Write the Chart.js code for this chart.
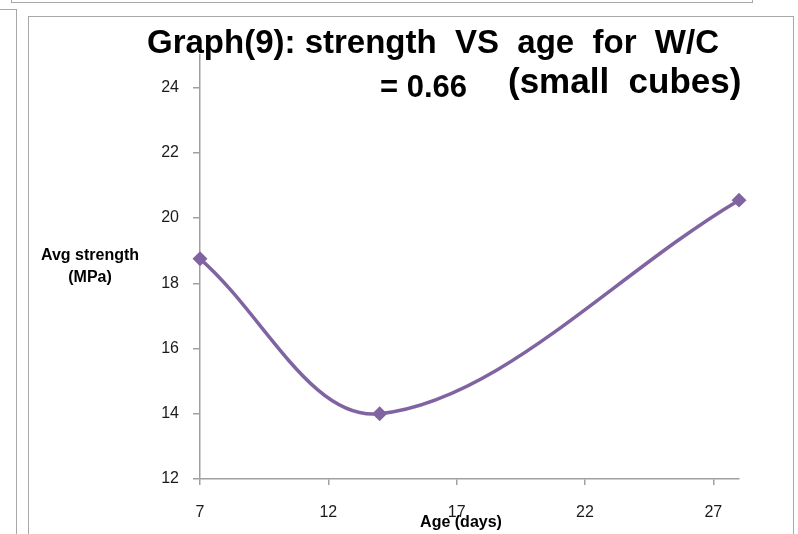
<!DOCTYPE html>
<html>
<head>
<meta charset="utf-8">
<script src="https://cdn.jsdelivr.net/npm/chart.js@4"></script>
<style>
  html, body { margin: 0; padding: 0; background: #fff; }
  #wrap { position: relative; width: 798px; height: 534px; overflow: hidden; }
  .line { position: absolute; background: #a8a8a8; }
  canvas { position: absolute; left: 0; top: 0; }
</style>
</head>
<body>
<div id="wrap">
  <div class="line" style="left:11px;top:2px;width:742px;height:1px"></div>
  <div class="line" style="left:11px;top:0;width:1px;height:3px"></div>
  <div class="line" style="left:752px;top:0;width:1px;height:3px"></div>
  <div class="line" style="left:0;top:9px;width:17px;height:1px"></div>
  <div class="line" style="left:16px;top:9px;width:1px;height:525px"></div>
  <div class="line" style="left:28px;top:16px;width:766px;height:1px"></div>
  <div class="line" style="left:28px;top:16px;width:1px;height:518px"></div>
  <div class="line" style="left:793px;top:16px;width:1px;height:518px"></div>
  <canvas id="chart" width="798" height="534"></canvas>
</div>
<script>
// data
const ages = [7, 14, 28];
const strength = [18.75, 14.0, 20.55];
const xTicks = [7, 12, 17, 22, 27];
const yTicks = [12, 14, 16, 18, 20, 22, 24];

const purple = '#8064a2';
const axisGrey = '#a0a0a0';
const tickFont = { family: 'Liberation Sans', size: 16 };

const labels = {
    id: 'labels',
    afterDraw(chart) {
        const ctx = chart.ctx;
        ctx.save();
        ctx.fillStyle = '#000';
        ctx.textBaseline = 'middle';

        ctx.font = 'bold 33px "Liberation Sans"';
        ctx.textAlign = 'center';
        ctx.fillText('Graph(9): strength  VS  age  for  W/C', 433, 44);

        ctx.textAlign = 'left';
        ctx.font = 'bold 31px "Liberation Sans"';
        ctx.fillText('= 0.66', 380, 88);
        ctx.font = 'bold 35px "Liberation Sans"';
        ctx.fillText('(small  cubes)', 508, 83);

        ctx.font = 'bold 16px "Liberation Sans"';
        ctx.textAlign = 'center';
        ctx.fillText('Avg strength', 90, 256);
        ctx.fillText('(MPa)', 90, 278);
        ctx.fillText('Age (days)', 461, 523);
        ctx.restore();
    }
};

new Chart(document.getElementById('chart').getContext('2d'), {
    type: 'line',
    data: {
        datasets: [{
            data: ages.map((a, i) => ({ x: a, y: strength[i] })),
            borderColor: purple,
            backgroundColor: purple,
            borderWidth: 3.5,
            tension: 0.35,
            pointStyle: 'rectRot',
            pointRadius: 5,
            clip: false,
            fill: false,
        }]
    },
    options: {
        responsive: false,
        animation: false,
        layout: { padding: { left: 0, top: 55, right: 59, bottom: 0 } },
        plugins: { legend: { display: false }, tooltip: { enabled: false } },
        scales: {
            x: {
                type: 'linear',
                min: 7,
                max: 28,
                afterBuildTicks: s => { s.ticks = xTicks.map(v => ({ value: v })); },
                afterFit: s => { s.height = 55; },
                grid: { drawOnChartArea: false, tickLength: 6, color: axisGrey, lineWidth: 1.5 },
                border: { color: axisGrey, width: 1.5 },
                ticks: { font: tickFont, color: '#1a1a1a', padding: 18, maxRotation: 0 },
            },
            y: {
                min: 12,
                max: 25,
                afterBuildTicks: s => { s.ticks = yTicks.map(v => ({ value: v })); },
                afterFit: s => { s.width = 200; },
                grid: { drawOnChartArea: false, tickLength: 7, color: axisGrey, lineWidth: 1.5 },
                border: { color: axisGrey, width: 1.5 },
                ticks: { font: tickFont, color: '#1a1a1a', padding: 14 },
            }
        }
    },
    plugins: [labels]
});
</script>
</body>
</html>
